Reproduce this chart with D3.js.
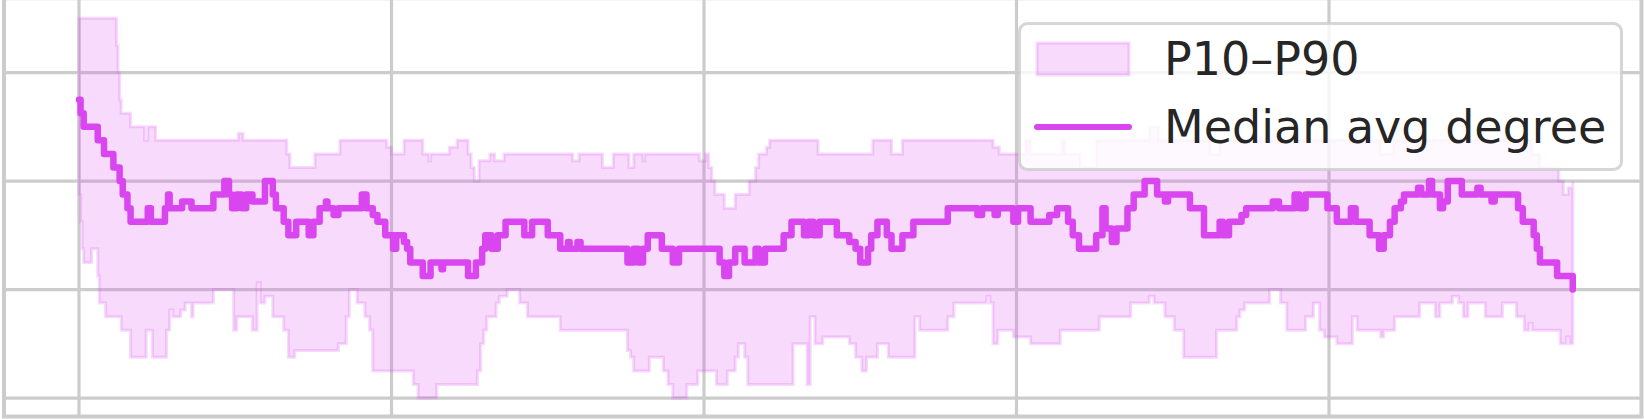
<!DOCTYPE html>
<meta charset="utf-8">
<head>
  <script src="https://cdn.jsdelivr.net/npm/d3@7"></script>
  <style>
    body { margin: 0; background: #fff; font-family: 'DejaVu Sans', sans-serif; }
  </style>
</head>

<div id="my_dataviz"></div>

<script>
  // median average degree, as change points (step index -> value)
  var medianStep = [0, 0.5, 1.5, 6, 8, 11, 13, 14, 15.5, 16.5, 22, 23, 27.5, 28.5, 29, 33, 36, 43, 46.5, 48,
    49, 50.5, 52, 53.5, 55.5, 59.5, 62, 63, 65.5, 67, 69.5, 73.5, 75, 77, 79, 79.5, 81.5, 83, 90.5, 92,
    94, 95.5, 98, 100.5, 101.5, 104, 105, 106, 110, 112.5, 116, 116.5, 124.5, 127, 129, 130, 132, 134, 136.5, 142.5,
    145, 150, 154, 156.5, 157, 159.5, 160.5, 175.5, 177.5, 179, 180.5, 182, 186.5, 190, 192, 205, 206.5, 208, 210, 213,
    216.5, 217.5, 219.5, 225.5, 228, 232, 233.5, 235, 237, 242.5, 246.5, 248.5, 250, 252.5, 253.5, 255.5, 258.5, 260,
    263.5, 267, 278, 287.5, 289, 293, 294, 299, 300.5, 304.5, 310.5, 313, 316.5, 318, 320, 325.5, 327.5, 328.5,
    330.5, 332, 335.5, 337.5, 341, 345, 347.5, 348.5, 355.5, 360, 365, 366, 368, 372, 373.5, 382, 384, 389,
    390.5, 392.5, 399.5, 402.5, 407, 408.5, 413, 416, 417.5, 419.5, 421, 423, 424, 428.5, 429.5, 432, 433, 435.5,
    436.5, 438, 442.5, 447.5, 448.5, 452, 453, 460.5, 462, 465.5, 466.5, 467.5, 473, 478];
  var medianVal = [9.5, 9.25, 9.0, 8.75, 8.5, 8.25, 8.0, 7.75, 7.5, 7.25, 7.5, 7.25, 7.5, 7.75, 7.5, 7.625, 7.5, 7.75, 8.0, 7.75,
    7.5, 7.75, 7.5, 7.75, 7.625, 8.0, 7.75, 7.5, 7.25, 7.0, 7.25, 7.0, 7.25, 7.5, 7.625, 7.5, 7.375, 7.5, 7.75, 7.5,
    7.375, 7.25, 7.0, 6.75, 7.0, 6.875, 6.75, 6.5, 6.25, 6.5, 6.375, 6.5, 6.25, 6.5, 6.75, 7.0, 6.75, 7.0, 7.25, 7.0,
    7.25, 7.0, 6.75, 6.875, 6.75, 6.875, 6.75, 6.5, 6.75, 6.5, 6.75, 7.0, 6.75, 6.5, 6.75, 6.5, 6.25, 6.5, 6.75, 6.5,
    6.75, 6.5, 6.75, 7.0, 7.25, 7.0, 7.25, 7.0, 7.25, 7.0, 6.875, 6.75, 6.5, 6.75, 7.0, 7.25, 7.0, 6.75,
    7.0, 7.25, 7.5, 7.375, 7.5, 7.375, 7.5, 7.25, 7.5, 7.25, 7.375, 7.5, 7.25, 7.0, 6.75, 7.0, 7.5, 7.125,
    6.875, 7.125, 7.5, 7.75, 8.0, 7.75, 7.625, 7.75, 7.5, 7.0, 7.25, 7.0, 7.25, 7.375, 7.5, 7.625, 7.5, 7.75,
    7.5, 7.75, 7.5, 7.25, 7.5, 7.25, 7.0, 6.75, 7.0, 7.25, 7.5, 7.625, 7.75, 7.875, 7.75, 8.0, 7.75, 7.5,
    7.625, 8.0, 7.75, 7.875, 7.75, 7.625, 7.75, 7.5, 7.25, 7.0, 6.75, 6.5, 6.25, 6.0];

  // 90th percentile (upper edge of the band)
  var p90Step = [0, 12, 12.5, 13, 13.5, 16.5, 21, 22, 24.5, 51, 52.5, 66.5, 67.5, 75.5, 83.5, 98.5, 100, 104, 110, 112,
    112.5, 118.5, 121, 124.5, 125.5, 126.5, 128, 131.5, 133, 136, 158, 160, 167.5, 171, 176, 177.5, 180.5, 181, 198.5, 200.5,
    201.5, 202.5, 203.5, 206.5, 210, 214.5, 216.5, 217.5, 220, 221, 236.5, 254, 260, 263.5, 292.5, 294.5, 303, 304.5, 314.5, 315.5,
    320.5, 325.5, 342.5, 345.5, 362, 365, 416.5, 420.5, 465, 467.5, 473.5, 475, 476.5, 478];
  var p90Val = [11.0, 10.5, 10.0, 9.5, 9.25, 9.0, 8.75, 9.0, 8.75, 8.875, 8.75, 8.5, 8.25, 8.5, 8.75, 8.625, 8.5, 8.75, 8.5, 8.375,
    8.5, 8.625, 8.75, 8.5, 8.25, 8.0, 8.375, 8.5, 8.375, 8.5, 8.375, 8.5, 8.25, 8.5, 8.25, 8.5, 8.375, 8.5, 8.375, 8.5,
    8.25, 8.0, 7.75, 7.5, 7.75, 8.0, 8.25, 8.5, 8.625, 8.75, 8.5, 8.75, 8.5, 8.75, 8.625, 8.5, 8.75, 8.5, 8.75, 8.5,
    8.25, 8.75, 9.0, 8.75, 8.5, 8.75, 8.5, 8.75, 8.5, 8.25, 8.0, 7.75, 7.875, 8.0];

  // 10th percentile (lower edge of the band)
  var p10Step = [0, 0.5, 1, 1.5, 4, 6, 6.5, 8.5, 13.5, 16.5, 21.5, 23.5, 28, 29, 30, 32.5, 34, 36, 36.5, 43,
    49.5, 50.5, 55.5, 57, 58, 59.5, 62, 65.5, 67, 69, 83, 85.5, 86.5, 89, 91.5, 93, 94, 107, 108.5, 114.5,
    127.5, 128.5, 129.5, 130.5, 133.5, 134.5, 137, 141, 143.5, 154, 175.5, 176.5, 177.5, 182.5, 187, 188.5, 190, 194.5, 198, 204,
    207.5, 210, 211, 213, 214, 228.5, 233, 234, 235.5, 238, 246.5, 248.5, 250.5, 252, 255.5, 259, 267.5, 269, 278, 280,
    290.5, 291.5, 292.5, 294, 299, 304.5, 314, 326.5, 336.5, 342.5, 344, 347.5, 350.5, 353.5, 364, 370.5, 371.5, 373, 381, 384.5,
    386.5, 392.5, 395, 397, 398.5, 402.5, 407.5, 409, 416.5, 417.5, 421, 429, 434, 435.5, 439.5, 441.5, 443, 444.5, 450, 455.5,
    460, 462.5, 464, 465, 474, 476, 477, 478];
  var p10Val = [7.75, 7.25, 6.75, 6.5, 6.75, 6.25, 5.75, 5.5, 5.25, 4.75, 5.25, 4.75, 5.25, 5.625, 5.5, 5.625, 5.75, 5.5, 5.75, 6.0,
    5.25, 5.5, 5.25, 6.125, 5.75, 5.875, 5.5, 5.25, 4.75, 4.875, 5.0, 5.5, 6.0, 5.75, 5.5, 5.25, 4.5, 4.25, 4.0, 4.25,
    4.5, 5.0, 5.25, 5.5, 5.75, 5.875, 6.0, 5.75, 5.5, 5.25, 4.875, 4.75, 4.5, 4.75, 4.5, 4.25, 4.0, 4.25, 4.5, 4.25,
    4.5, 4.75, 5.0, 4.75, 4.25, 5.0, 4.25, 5.5, 5.0, 5.125, 5.0, 4.75, 4.5, 4.75, 5.0, 4.75, 5.5, 5.25, 5.5, 5.75,
    5.875, 5.75, 5.0, 5.25, 5.125, 5.0, 5.25, 5.5, 5.75, 5.875, 5.75, 5.5, 5.25, 4.75, 5.25, 5.5, 5.625, 5.75, 6.0, 5.75,
    5.25, 5.5, 5.75, 5.25, 5.125, 5.0, 5.5, 5.25, 5.125, 5.25, 5.5, 5.75, 5.5, 5.75, 5.875, 5.75, 5.5, 5.75, 5.5, 5.75,
    5.5, 5.25, 5.375, 5.25, 5.0, 5.125, 5.0, 5.0];

  var xTicks = [0, 100, 200, 300, 400, 500];
  var yTicks = [4, 6, 8, 10, 12];
  var legendLabels = ["P10\u2013P90", "Median avg degree"];

  var color = "#d946ef";
  var width = 1644, height = 419;

  var svg = d3.select("#my_dataviz")
    .append("svg")
    .attr("width", width)
    .attr("height", height)
    .style("display", "block");

  // axes limits (the frame is cut at the top of the picture)
  var x = d3.scaleLinear().domain([-24, 500]).range([4, 1641.5]);
  var y = d3.scaleLinear().domain([3.66, 11.37]).range([416.5, -1.8]);

  // grid
  svg.append("g").selectAll("line").data(xTicks).join("line")
    .attr("x1", function (d) { return x(d); }).attr("x2", function (d) { return x(d); })
    .attr("y1", y.range()[0]).attr("y2", y.range()[1])
    .attr("stroke", "#cccccc").attr("stroke-width", 3.2);
  svg.append("g").selectAll("line").data(yTicks).join("line")
    .attr("x1", x.range()[0]).attr("x2", x.range()[1])
    .attr("y1", function (d) { return y(d); }).attr("y2", function (d) { return y(d); })
    .attr("stroke", "#cccccc").attr("stroke-width", 3.2);

  // step lookup for the band
  function stepValue(steps, vals, t) {
    var i = d3.bisectRight(steps, t) - 1;
    return vals[Math.max(0, i)];
  }
  var bandX = Array.from(new Set(p90Step.concat(p10Step))).sort(d3.ascending);
  var band = bandX.map(function (t) {
    return { t: t, hi: stepValue(p90Step, p90Val, t), lo: stepValue(p10Step, p10Val, t) };
  });

  svg.append("path")
    .datum(band)
    .attr("fill", color).attr("fill-opacity", 0.2)
    .attr("stroke", color).attr("stroke-opacity", 0.2).attr("stroke-width", 3)
    .attr("d", d3.area().curve(d3.curveStepAfter)
      .x(function (d) { return x(d.t); })
      .y0(function (d) { return y(d.lo); })
      .y1(function (d) { return y(d.hi); }));

  // median line
  var median = medianStep.map(function (t, i) { return { t: t, v: medianVal[i] }; });
  svg.append("path")
    .datum(median)
    .attr("fill", "none")
    .attr("stroke", color)
    .attr("stroke-width", 6.5)
    .attr("stroke-linejoin", "round")
    .attr("stroke-linecap", "round")
    .attr("d", d3.line().curve(d3.curveStepAfter)
      .x(function (d) { return x(d.t); })
      .y(function (d) { return y(d.v); }));

  // spines
  svg.append("rect")
    .attr("x", x.range()[0]).attr("y", y.range()[1])
    .attr("width", x.range()[1] - x.range()[0])
    .attr("height", y.range()[0] - y.range()[1])
    .attr("fill", "none").attr("stroke", "#cccccc").attr("stroke-width", 4);

  // legend
  var lg = svg.append("g");
  lg.append("rect")
    .attr("x", 1019.5).attr("y", 23.5).attr("width", 602).attr("height", 146).attr("rx", 8)
    .attr("fill", "#fff").attr("fill-opacity", 0.8)
    .attr("stroke", "#cccccc").attr("stroke-opacity", 0.8).attr("stroke-width", 3);
  lg.append("rect")
    .attr("x", 1037).attr("y", 43).attr("width", 92).attr("height", 32)
    .attr("fill", color).attr("fill-opacity", 0.2)
    .attr("stroke", color).attr("stroke-opacity", 0.2).attr("stroke-width", 3);
  lg.append("line")
    .attr("x1", 1037).attr("x2", 1129).attr("y1", 127).attr("y2", 127)
    .attr("stroke", color).attr("stroke-width", 6).attr("stroke-linecap", "round");
  lg.selectAll("text").data(legendLabels).join("text")
    .attr("x", 1164)
    .attr("y", function (d, i) { return 75 + i * 68; })
    .attr("fill", "#262626")
    .style("font-family", "'DejaVu Sans', sans-serif")
    .style("font-size", "46px")
    .text(function (d) { return d; });
</script>
